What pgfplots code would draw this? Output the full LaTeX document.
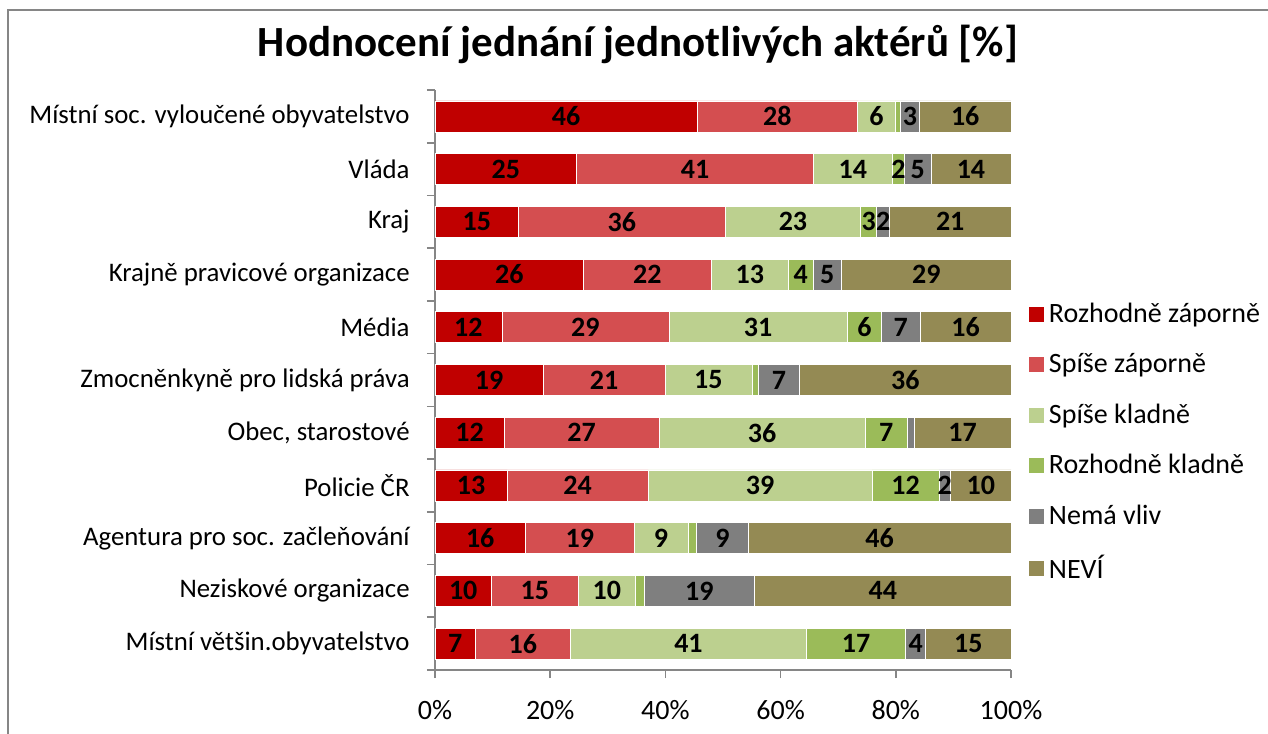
\documentclass[border=0pt]{standalone}
\usepackage{fontspec}
\setmainfont{Carlito}
\usepackage{pgfplots}
\usepackage{pgfplotstable}
\pgfplotsset{compat=1.18}
\definecolor{c1}{HTML}{C00000}
\definecolor{c2}{HTML}{D44E50}
\definecolor{c3}{HTML}{BCD08F}
\definecolor{c4}{HTML}{9BBB59}
\definecolor{c5}{HTML}{7F7F7F}
\definecolor{c6}{HTML}{948A54}
\definecolor{axgray}{HTML}{868686}
\pgfplotstableread{
y a la b lb c lc d ld e le f lf
10 45.5 46 27.9 28 6.5 6 0.9 {} 3.3 3 15.9 16
9 24.6 25 41.1 41 13.7 14 2.1 2 4.6 5 13.9 14
8 14.5 15 35.9 36 23.5 23 2.8 3 2.2 2 21.1 21
7 25.8 26 22.1 22 13.5 13 4.2 4 5.0 5 29.4 29
6 11.6 12 29.0 29 31.0 31 5.9 6 6.7 7 15.8 16
5 18.8 19 21.1 21 15.1 15 1.1 {} 7.2 7 36.7 36
4 12.0 12 26.9 27 35.8 36 7.3 7 1.2 {} 16.8 17
3 12.5 13 24.5 24 38.9 39 11.6 12 2.0 2 10.5 10
2 15.7 16 18.9 19 9.3 9 1.5 {} 9.0 9 45.6 46
1 9.8 10 15.1 15 9.9 10 1.5 {} 19.2 19 44.5 44
0 7.0 7 16.5 16 41.0 41 17.2 17 3.5 4 14.8 15
}\data
\begin{document}
\begin{tikzpicture}[x=1pt,y=1pt]
\useasboundingbox (0,0) rectangle (634,366.5);
\draw[color=axgray, line width=0.8pt] (4,-2) -- (4,361.5) -- (640,361.5);
\node[font=\fontsize{21.5}{25}\selectfont\bfseries] at (319,344.5) {Hodnocení jednání jednotlivých aktérů [\%]};
\begin{axis}[
  at={(217.5pt,31.5pt)}, anchor=south west, scale only axis,
  width=288pt, height=290pt,
  xbar stacked, bar width=15.5pt,
  xmin=0, xmax=100, ymin=-0.5, ymax=10.5,
  axis x line*=bottom, axis y line*=left,
  axis line style={-, color=axgray, line width=0.8pt},
  major tick style={draw=none},
  minor tick style={color=axgray, line width=0.8pt},
  tick align=outside, major tick length=0pt, minor tick length=4pt,
  xtick={0,20,...,100}, minor xtick={0,20,...,100},
  xticklabel={\pgfmathprintnumber{\tick}\%},
  x tick label style={yshift=-11.5pt, font=\fontsize{14}{17}\selectfont},
  ytick={0,1,...,10}, minor ytick={-0.5,0.5,...,10.5},
  yticklabels={Místní většin.obyvatelstvo, Neziskové organizace, Agentura pro soc. začleňování, Policie ČR, {Obec, starostové}, Zmocněnkyně pro lidská práva, Média, Krajně pravicové organizace, Kraj, Vláda, Místní soc. vyloučené obyvatelstvo},
  y tick label style={inner sep=0pt, xshift=-12.5pt, font=\fontsize{13.4}{16}\selectfont},
  /pgf/number format/assume math mode=true,
  clip=false,
  point meta=explicit symbolic,
  nodes near coords,
  every node near coord/.style={anchor=center, font=\fontsize{14}{17}\selectfont\bfseries, text=black},
  legend style={at={(1.0295,0.640)}, anchor=north west, draw=none, fill=none, inner sep=0pt, row sep=10pt, font=\fontsize{14}{17}\selectfont, legend cell align=left},
  legend image code/.code={\fill[#1] (0pt,-4pt) rectangle (8pt,4pt);},
]
\addplot[fill=c1, draw=white, line width=0.3pt] table[x=a, y=y, meta=la] {\data};
\addplot[fill=c2, draw=white, line width=0.3pt] table[x=b, y=y, meta=lb] {\data};
\addplot[fill=c3, draw=white, line width=0.3pt] table[x=c, y=y, meta=lc] {\data};
\addplot[fill=c4, draw=white, line width=0.3pt] table[x=d, y=y, meta=ld] {\data};
\addplot[fill=c5, draw=white, line width=0.3pt] table[x=e, y=y, meta=le] {\data};
\addplot[fill=c6, draw=white, line width=0.3pt] table[x=f, y=y, meta=lf] {\data};
\legend{Rozhodně záporně, Spíše záporně, Spíše kladně, Rozhodně kladně, Nemá vliv, NEVÍ}
\end{axis}
\end{tikzpicture}
\end{document}
